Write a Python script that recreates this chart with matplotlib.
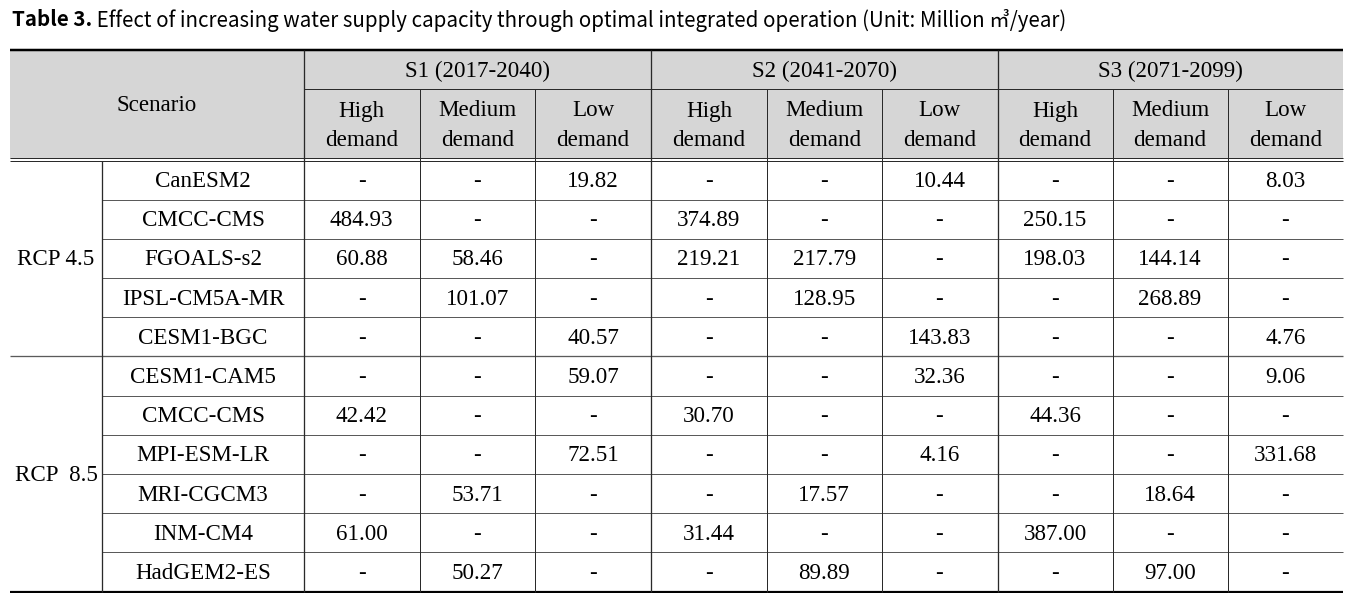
import matplotlib
matplotlib.use('Agg')
import matplotlib.pyplot as plt
from matplotlib.patches import Rectangle

# table content
title_bold = 'Table 3.'
title_rest = ' Effect of increasing water supply capacity through optimal integrated operation (Unit: Million ㎥/year)'
periods = ['S1 (2017-2040)', 'S2 (2041-2070)', 'S3 (2071-2099)']
demands = ['High\ndemand', 'Medium\ndemand', 'Low\ndemand']
groups = ['RCP 4.5', 'RCP  8.5']
group_sizes = [5, 6]
models = ['CanESM2', 'CMCC-CMS', 'FGOALS-s2', 'IPSL-CM5A-MR', 'CESM1-BGC',
          'CESM1-CAM5', 'CMCC-CMS', 'MPI-ESM-LR', 'MRI-CGCM3', 'INM-CM4', 'HadGEM2-ES']
values = [
    ['-', '-', '19.82', '-', '-', '10.44', '-', '-', '8.03'],
    ['484.93', '-', '-', '374.89', '-', '-', '250.15', '-', '-'],
    ['60.88', '58.46', '-', '219.21', '217.79', '-', '198.03', '144.14', '-'],
    ['-', '101.07', '-', '-', '128.95', '-', '-', '268.89', '-'],
    ['-', '-', '40.57', '-', '-', '143.83', '-', '-', '4.76'],
    ['-', '-', '59.07', '-', '-', '32.36', '-', '-', '9.06'],
    ['42.42', '-', '-', '30.70', '-', '-', '44.36', '-', '-'],
    ['-', '-', '72.51', '-', '-', '4.16', '-', '-', '331.68'],
    ['-', '53.71', '-', '-', '17.57', '-', '-', '18.64', '-'],
    ['61.00', '-', '-', '31.44', '-', '-', '387.00', '-', '-'],
    ['-', '50.27', '-', '-', '89.89', '-', '-', '97.00', '-'],
]

# layout in pixels
W, H = 1363, 593
left, right = 10, 1343
x_grp = 102
x_cols = [304, 419.5, 535, 651, 767, 881.5, 997.5, 1112.5, 1227.5, 1343]
top, mid, head_bot = 50, 89, 159
body_top, body_bot = 160.5, 591.5
row_h = (body_bot - body_top) / len(models)

fig = plt.figure(figsize=(W / 100, H / 100), dpi=100)
ax = fig.add_axes([0, 0, 1, 1])
ax.set_xlim(0, W)
ax.set_ylim(H, 0)
ax.axis('off')

serif = dict(family='Liberation Serif', fontsize=16.6, color='black', ha='center', va='center')
px = 0.72
dark = '#2a2a2a'
grey = '#5a5a5a'

# title
t = ax.text(12, 20, title_bold, family=['Noto Sans CJK KR', 'DejaVu Sans'], fontweight='bold',
            fontsize=14.75, va='center', ha='left')
ax.annotate(title_rest, xy=(1, 0.5), xycoords=t, va='center', ha='left',
            family=['Noto Sans CJK KR', 'DejaVu Sans'], fontsize=14.75)

# header background
ax.add_patch(Rectangle((left, top), right - left, head_bot - top, color='#d6d6d6', lw=0, zorder=0))

# header text
ax.text((left + x_cols[0]) / 2, (top + head_bot) / 2 + 1, 'Scenario', **serif)
for i, p in enumerate(periods):
    ax.text((x_cols[3 * i] + x_cols[3 * i + 3]) / 2, (top + mid) / 2 + 1.5, p, **serif)
    for j, d in enumerate(demands):
        k = 3 * i + j
        ax.text((x_cols[k] + x_cols[k + 1]) / 2, (mid + head_bot) / 2 + 1.5, d, linespacing=1.5, **serif)

# body text
for r, m in enumerate(models):
    yc = body_top + row_h * (r + 0.5) + 1.5
    ax.text((x_grp + x_cols[0]) / 2, yc, m, **serif)
    for k, v in enumerate(values[r]):
        ax.text((x_cols[k] + x_cols[k + 1]) / 2, yc, v, **serif)

start = 0
for g, n in zip(groups, group_sizes):
    yc = body_top + row_h * (start + n / 2) + 1.5
    ax.text((left + x_grp) / 2, yc, g, **serif)
    start += n

# rules
ax.hlines(top, left, right, color='black', lw=2.5 * px)
ax.hlines(mid, x_cols[0], right, color=dark, lw=px)
ax.hlines([head_bot - 1.5, head_bot + 1.5], left, right, color=dark, lw=px)
ax.hlines(body_bot, left, right, color='black', lw=2.2 * px)
start = 0
for n in group_sizes:
    for r in range(start + 1, start + n):
        ax.hlines(body_top + row_h * r, x_grp, right, color=grey, lw=px)
    start += n
    if start < len(models):
        ax.hlines(body_top + row_h * start, left, right, color=grey, lw=1.3 * px)

ax.vlines(x_grp, body_top, body_bot, color=dark, lw=1.3 * px)
for k, x in enumerate(x_cols[:-1]):
    if k % 3 == 0:
        ax.vlines(x, top, body_bot, color=dark, lw=1.3 * px)
    else:
        ax.vlines(x, mid, body_bot, color=dark, lw=px)

fig.savefig('out.png', dpi=100)
